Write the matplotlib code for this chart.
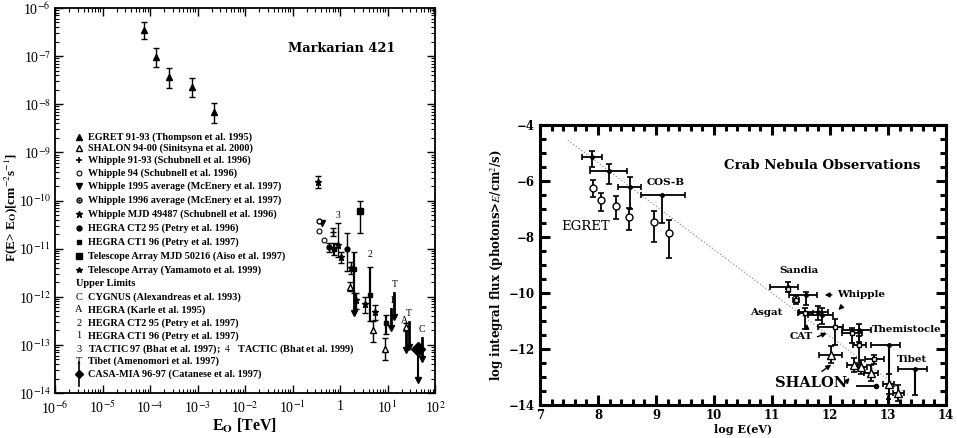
import numpy as np
import matplotlib.pyplot as plt
from matplotlib.ticker import FixedLocator, FixedFormatter, MultipleLocator, LogLocator, NullFormatter

plt.rcParams['font.family'] = ['Liberation Serif', 'DejaVu Serif']
plt.rcParams['mathtext.fontset'] = 'stix'

# ---------------- Markarian 421 (E in TeV, F(>E) in cm^-2 s^-1) ----------------
egret_E = [7.6e-5, 1.35e-4, 2.5e-4, 7.7e-4, 2.2e-3]
egret_F = [3.5e-7, 9.5e-8, 3.7e-8, 2.3e-8, 6.9e-9]
egret_lo = [2.3e-7, 5.9e-8, 2.2e-8, 1.4e-8, 4.1e-9]
egret_hi = [5.1e-7, 1.48e-7, 5.6e-8, 3.5e-8, 1.05e-8]

shalon_E = [1.6, 4.9, 8.7, 24.0]
shalon_F = [1.6e-12, 2.0e-13, 8.1e-14, 2.3e-13]
shalon_lo = [1.3e-12, 1.15e-13, 4.8e-14, 1.9e-13]
shalon_hi = [2.0e-12, 3.2e-13, 1.4e-13, 2.8e-13]

whip9193_E = [0.70]
whip9193_F = [2.2e-11]
whip9193_lo = [1.8e-11]
whip9193_hi = [2.7e-11]

whip94_E = [0.37, 0.45]
whip94_F = [2.3e-11, 1.5e-11]

whip95_E = [0.41]
whip95_F = [3.4e-11]

whip96_E = [0.36]
whip96_F = [3.7e-11]

whipmjd_E = [0.34]
whipmjd_F = [2.4e-10]
whipmjd_lo = [1.8e-10]
whipmjd_hi = [3.2e-10]

ct2_E = [0.60, 1.38]
ct2_F = [1.07e-11, 9.8e-12]
ct2_lo = [8.5e-12, 3.5e-12]
ct2_hi = [1.3e-11, 2.1e-11]

ct1_E = [0.73, 2.0, 4.2, 9.5]
ct1_F = [1.0e-11, 3.7e-12, 1.1e-12, 2.8e-13]
ct1_lo = [7.5e-12, 1.2e-12, 3.2e-13, 1.7e-13]
ct1_hi = [1.3e-11, 8.5e-12, 4.2e-12, 4.2e-13]

tamjd_E = [2.6]
tamjd_F = [6.0e-11]
tamjd_lo = [2.1e-11]
tamjd_hi = [9.8e-11]

ta99_E = [0.89, 1.03, 1.67, 2.2, 3.3, 5.4]
ta99_F = [1.2e-11, 6.6e-12, 3.9e-12, 8.5e-13, 7.1e-13, 4.8e-13]
ta99_lo = [6.6e-12, 5.0e-12, 2.9e-12, 5.5e-13, 4.6e-13, 3.3e-13]
ta99_hi = [3.4e-11, 8.5e-12, 5.2e-12, 1.2e-12, 1.0e-12, 6.8e-13]

# upper limits: value (arrow tip) and top of bar
ul_E = [1.95, 12.0, 14.0, 24.0, 28.0, 53.0]
ul_F = [4.6e-13, 2.2e-13, 3.8e-13, 7.8e-14, 8.9e-14, 5.2e-14]
ul_top = [1.2e-12, 5.8e-13, 1.26e-12, 2.3e-13, 3.2e-13, 1.45e-13]
ul_tags = ['', '1', 'T', '', 'T', 'C']

casa_E = [44.0]
casa_F = [8.1e-14]
casa_min = [1.85e-14]

# labels written next to the points
tag_text = ['3', '2', 'A']
tag_E = [0.89, 4.2, 23.0]
tag_F = [4.0e-11, 6.0e-12, 2.6e-13]

legend_rows = [
    ('^f', 'EGRET 91-93 (Thompson et al. 1995)'),
    ('^o', 'SHALON 94-00 (Sinitsyna et al. 2000)'),
    ('+', 'Whipple 91-93 (Schubnell et al. 1996)'),
    ('oo', 'Whipple 94 (Schubnell et al. 1996)'),
    ('vf', 'Whipple 1995 average (McEnery et al. 1997)'),
    ('od', 'Whipple 1996 average (McEnery et al. 1997)'),
    ('*', 'Whipple MJD 49487 (Schubnell et al. 1996)'),
    ('of', 'HEGRA CT2 95 (Petry et al. 1996)'),
    ('sf', 'HEGRA CT1 96 (Petry et al. 1997)'),
    ('Sf', 'Telescope Array MJD 50216 (Aiso et al. 1997)'),
    ('x*', 'Telescope Array (Yamamoto et al. 1999)'),
    ('', 'Upper Limits'),
    ('tC', 'CYGNUS (Alexandreas et al. 1993)'),
    ('tA', 'HEGRA (Karle et al. 1995)'),
    ('t2', 'HEGRA CT2 95 (Petry et al. 1997)'),
    ('t1', 'HEGRA CT1 96 (Petry et al. 1997)'),
    ('t3', 'TACTIC 97 (Bhat et al. 1997);  $\\it{4}$   TACTIC (Bhat et al. 1999)'),
    ('tT', 'Tibet (Amenomori et al. 1997)'),
    ('D', 'CASA-MIA 96-97 (Catanese et al. 1997)'),
]
legend_y = [137, 148, 160, 173, 186, 200, 214, 228, 242, 256, 270, 283,
            297, 310, 323, 336, 349, 361, 374]

xt_pos = [1e-6, 1e-5, 1e-4, 1e-3, 1e-2, 1e-1, 1, 10, 100]
xt_lab = ['10$^{-6}$', '10$^{-5}$', '10$^{-4}$', '10$^{-3}$', '10$^{-2}$',
          '10$^{-1}$', '1', '10$^{1}$', '10$^{2}$']
yt_pos = [1e-6, 1e-7, 1e-8, 1e-9, 1e-10, 1e-11, 1e-12, 1e-13, 1e-14]
yt_lab = ['10$^{-6}$', '10$^{-7}$', '10$^{-8}$', '10$^{-9}$', '10$^{-10}$',
          '10$^{-11}$', '10$^{-12}$', '10$^{-13}$', '10$^{-14}$']

# ---------------- Crab Nebula (log E in eV, log integral flux) ----------------
cosb_x = [7.90, 8.19, 8.55, 9.11]
cosb_y = [-5.14, -5.64, -6.21, -6.50]
cosb_xlo = [7.73, 7.86, 8.34, 8.74]
cosb_xhi = [8.07, 8.50, 8.74, 9.50]
cosb_ylo = [-5.50, -6.11, -7.00, -7.50]
cosb_yhi = [-4.93, -5.39, -5.86, -6.50]

egr_x = [7.92, 8.06, 8.31, 8.53, 8.96, 9.23]
egr_y = [-6.25, -6.68, -6.90, -7.28, -7.45, -7.87]
egr_ylo = [-6.57, -7.07, -7.36, -7.75, -8.18, -8.75]
egr_yhi = [-5.96, -6.43, -6.54, -6.96, -7.07, -7.39]

gnd_x = [11.28, 11.58, 11.80, 11.87, 12.50]
gnd_y = [-9.79, -10.07, -10.68, -10.80, -11.32]
gnd_xlo = [10.97, 11.29, 11.46, 11.62, 12.20]
gnd_xhi = [11.45, 11.77, 11.97, 12.05, 12.71]
gnd_ylo = [-9.95, -10.43, -10.95, -11.10, -11.75]
gnd_yhi = [-9.62, -9.96, -10.45, -10.55, -11.10]

sq_x = [11.28, 11.41, 11.57, 12.09, 12.38, 12.50, 12.76]
sq_y = [-9.85, -10.25, -10.71, -11.21, -11.43, -11.86, -12.36]
sq_xlo = [11.28, 11.36, 11.45, 11.80, 12.20, 12.40, 12.60]
sq_xhi = [11.28, 11.46, 11.70, 12.23, 12.55, 12.62, 12.93]
sq_ylo = [-9.85, -10.40, -11.30, -11.85, -11.80, -12.50, -12.55]
sq_yhi = [-9.85, -10.10, -10.55, -10.93, -11.25, -11.55, -12.20]

tib_x = [13.01, 13.47]
tib_y = [-11.86, -12.71]
tib_xlo = [12.71, 13.17]
tib_xhi = [13.20, 13.68]
tib_ybot = [-13.80, -13.64]

hg_x = [12.79]
hg_y = [-13.32]
hg_xlo = [12.45]

sh_x = [12.01, 12.42, 12.54, 12.71, 13.01, 13.18]
sh_y = [-12.21, -12.57, -12.64, -12.86, -13.25, -13.57]
sh_xerr = [0.20, 0.12, 0.10, 0.12, 0.10, 0.10]
sh_yerr = [0.30, 0.25, 0.25, 0.30, 0.35, 0.30]

fit_x = [7.48, 13.35]
fit_y = [-4.54, -13.64]

W, H = 957, 438
fig = plt.figure(figsize=(W / 100, H / 100), dpi=100)


def px_axes(x0, y0, x1, y1):
    return fig.add_axes([x0 / W, 1 - y1 / H, (x1 - x0) / W, (y1 - y0) / H])


def err(v, lo, hi):
    v = np.array(v)
    return [v - np.array(lo), np.array(hi) - v]


# ================= left panel =================
ax = px_axes(55, 8, 435, 393)
ax.set_xscale('log')
ax.set_yscale('log')
ax.set_xlim(1e-6, 1e2)
ax.set_ylim(1e-14, 1e-6)

k = dict(color='black', ecolor='black', capsize=2.2, capthick=1.0, ls='none')
ax.errorbar(egret_E, egret_F, yerr=err(egret_F, egret_lo, egret_hi), marker='^', ms=5, elinewidth=1.0, **k)
ax.errorbar(shalon_E, shalon_F, yerr=err(shalon_F, shalon_lo, shalon_hi), marker='^', ms=5, mfc='white', elinewidth=1.0, **k)
ax.errorbar(whip9193_E, whip9193_F, yerr=err(whip9193_F, whip9193_lo, whip9193_hi), marker='+', ms=4, elinewidth=1.0, **k)
ax.plot(whip94_E, whip94_F, 'o', ms=3.5, mfc='white', mec='black', mew=0.8)
ax.plot(whip95_E, whip95_F, 'v', ms=4, color='black')
ax.plot(whip96_E, whip96_F, 'o', ms=3.5, mfc='white', mec='black', mew=1.0)
ax.errorbar(whipmjd_E, whipmjd_F, yerr=err(whipmjd_F, whipmjd_lo, whipmjd_hi), marker='*', ms=5, elinewidth=1.0, **k)
ax.errorbar(ct2_E, ct2_F, yerr=err(ct2_F, ct2_lo, ct2_hi), marker='o', ms=3.5, elinewidth=1.0, **k)
ax.errorbar(ct1_E, ct1_F, yerr=err(ct1_F, ct1_lo, ct1_hi), marker='s', ms=3, elinewidth=1.6, **k)
ax.errorbar(tamjd_E, tamjd_F, yerr=err(tamjd_F, tamjd_lo, tamjd_hi), marker='s', ms=4.5, elinewidth=1.0, **k)
ax.errorbar(ta99_E, ta99_F, yerr=err(ta99_F, ta99_lo, ta99_hi), marker='*', ms=4.5, elinewidth=1.0, **k)

ax.vlines(ul_E, ul_F, ul_top, color='black', lw=2.0)
ax.hlines(ul_top, np.array(ul_E) / 1.05, np.array(ul_E) * 1.05, color='black', lw=0.8)
ax.plot(ul_E, ul_F, 'v', ms=4, color='black')
for e, t, s in zip(ul_E, ul_top, ul_tags):
    ax.text(e * 1.02, t * 1.15, s, fontsize=7, ha='center', va='bottom')
for s, e, f in zip(tag_text, tag_E, tag_F):
    ax.text(e, f, s, fontsize=7, ha='center', va='bottom')

ax.vlines(casa_E, casa_min, casa_F, color='black', lw=1.5)
ax.plot(casa_E, casa_min, 'v', ms=4, color='black')
ax.plot(casa_E, casa_F, 'D', ms=7, color='black')

ax.xaxis.set_major_locator(FixedLocator(xt_pos))
ax.xaxis.set_major_formatter(FixedFormatter(xt_lab))
ax.yaxis.set_major_locator(FixedLocator(yt_pos))
ax.yaxis.set_major_formatter(FixedFormatter(yt_lab))
ax.xaxis.set_minor_locator(LogLocator(base=10, subs=np.arange(2, 10), numticks=20))
ax.yaxis.set_minor_locator(LogLocator(base=10, subs=np.arange(2, 10), numticks=20))
ax.xaxis.set_minor_formatter(NullFormatter())
ax.yaxis.set_minor_formatter(NullFormatter())
ax.tick_params(which='both', direction='in', top=True, right=True, labelsize=10)
ax.tick_params(which='major', length=6, width=1.0)
ax.tick_params(which='minor', length=3, width=0.8)
ax.tick_params(axis='x', pad=5)
ax.tick_params(axis='y', pad=3)
for sp in ax.spines.values():
    sp.set_linewidth(1.3)

ax.text(0.755, 0.896, 'Markarian 421', transform=ax.transAxes, fontsize=9.3,
        fontweight='bold', ha='center', va='center', family=['DejaVu Serif'])
ax.set_xlabel('E$_{\\mathbf{O}}$ [TeV]', fontsize=11.5, fontweight='bold', labelpad=0)
fig.text(11 / W, 1 - 208 / H, 'F(E> E$_{\\mathbf{O}}$)[cm$^{-2}$s$^{-1}$]', rotation=90,
         fontsize=9.5, fontweight='bold', ha='center', va='center')

# text legend inside the panel
for (m, lab), yy in zip(legend_rows, legend_y):
    fy = (393 - yy) / 385
    mx = (79 - 55) / 380
    tx = (88 - 55) / 380
    if m == '':
        ax.text((76 - 55) / 380, fy, lab, transform=ax.transAxes, fontsize=7.5,
                fontweight='bold', va='center')
        continue
    if m.startswith('t'):
        ax.text(mx, fy, m[1], transform=ax.transAxes, fontsize=7.5, ha='center', va='center')
    elif m == '^f':
        ax.plot(mx, fy, '^', ms=5, color='black', transform=ax.transAxes)
    elif m == '^o':
        ax.plot(mx, fy, '^', ms=5, mfc='white', mec='black', transform=ax.transAxes)
    elif m == '+':
        ax.plot(mx, fy, '+', ms=4, mew=1.2, color='black', transform=ax.transAxes)
    elif m == 'oo':
        ax.plot(mx, fy, 'o', ms=3.5, mfc='white', mec='black', mew=0.8, transform=ax.transAxes)
    elif m == 'vf':
        ax.plot(mx, fy, 'v', ms=4.5, color='black', transform=ax.transAxes)
    elif m == 'od':
        ax.plot(mx, fy, 'o', ms=3.5, mfc='white', mec='black', transform=ax.transAxes)
        ax.plot(mx, fy, '.', ms=1.5, color='black', transform=ax.transAxes)
    elif m == '*':
        ax.plot(mx, fy, '*', ms=5, color='black', transform=ax.transAxes)
    elif m == 'of':
        ax.plot(mx, fy, 'o', ms=3.5, color='black', transform=ax.transAxes)
    elif m == 'sf':
        ax.plot(mx, fy, 's', ms=3, color='black', transform=ax.transAxes)
    elif m == 'Sf':
        ax.plot(mx, fy, 's', ms=4.5, color='black', transform=ax.transAxes)
    elif m == 'x*':
        ax.plot(mx, fy, '*', ms=4, color='black', transform=ax.transAxes)
    elif m == 'D':
        ax.plot(mx, fy, 'D', ms=4, color='black', transform=ax.transAxes)
        ax.plot([mx, mx], [fy - 0.03, fy + 0.03], color='black', lw=1.2, transform=ax.transAxes)
    ax.text(tx, fy, lab, transform=ax.transAxes, fontsize=7.3, fontweight='bold', va='center')

# ================= right panel =================
bx = px_axes(540, 125, 946, 405)
bx.set_xlim(7, 14)
bx.set_ylim(-14, -4)

bx.plot(fit_x, fit_y, ls=(0, (1, 2)), color='grey', lw=0.8)

kk = dict(ls='none', color='black', ecolor='black', capsize=2.5, capthick=1.2, elinewidth=1.3)
bx.errorbar(cosb_x, cosb_y, xerr=err(cosb_x, cosb_xlo, cosb_xhi),
            yerr=err(cosb_y, cosb_ylo, cosb_yhi), marker='o', ms=2.5, **kk)
bx.errorbar(egr_x, egr_y, yerr=err(egr_y, egr_ylo, egr_yhi), marker='o', ms=5,
            mfc='white', mec='black', **kk)
bx.errorbar(gnd_x, gnd_y, xerr=err(gnd_x, gnd_xlo, gnd_xhi),
            yerr=err(gnd_y, gnd_ylo, gnd_yhi), marker='o', ms=2.5, **kk)
bx.errorbar(sq_x, sq_y, xerr=err(sq_x, sq_xlo, sq_xhi),
            yerr=err(sq_y, sq_ylo, sq_yhi), marker='s', ms=3.5, mfc='white', mec='black', **kk)
bx.errorbar(tib_x, tib_y, xerr=err(tib_x, tib_xlo, tib_xhi), marker='o', ms=2.5, **kk)
bx.vlines(tib_x, tib_ybot, tib_y, color='black', lw=1.5)
bx.hlines(tib_ybot, np.array(tib_x) - 0.05, np.array(tib_x) + 0.05, color='black', lw=1.2)
bx.hlines(hg_y, hg_xlo, hg_x, color='black', lw=1.3)
bx.plot(hg_x, hg_y, 'o', ms=3, color='black')
bx.errorbar(sh_x, sh_y, xerr=sh_xerr, yerr=sh_yerr, marker='^', ms=5.5,
            mfc='white', mec='black', **kk)

ser = ['DejaVu Serif']
bx.text(11.86, -5.46, 'Crab Nebula Observations', fontsize=9.6, fontweight='bold',
        ha='center', va='center', family=ser)
bx.text(9.16, -6.05, 'COS-B', fontsize=7.5, fontweight='bold', ha='center', va='center', family=ser)
bx.text(7.78, -7.61, 'EGRET', fontsize=9.5, ha='center', va='center', family=ser)
bx.text(11.46, -9.21, 'Sandia', fontsize=7.5, fontweight='bold', ha='center', va='center', family=ser)
bx.text(12.13, -10.07, 'Whipple', fontsize=7.5, fontweight='bold', ha='left', va='center', family=ser)
bx.text(10.9, -10.68, 'Asgat', fontsize=7.5, fontweight='bold', ha='center', va='center', family=ser)
bx.text(11.51, -11.57, 'CAT', fontsize=7.5, fontweight='bold', ha='center', va='center', family=ser)
bx.text(12.72, -11.32, 'Themistocle', fontsize=7.3, fontweight='bold', ha='left', va='center', family=ser)
bx.text(13.42, -12.36, 'Tibet', fontsize=7.5, fontweight='bold', ha='center', va='center', family=ser)
bx.text(11.68, -13.21, 'SHALON', fontsize=10.5, fontweight='bold', ha='center', va='center', family=ser)

ap = dict(arrowstyle='-|>', color='black', lw=1.0, mutation_scale=7)
bx.annotate('', xy=(11.86, -10.07), xytext=(12.08, -10.07), arrowprops=ap)
bx.annotate('', xy=(12.11, -10.68), xytext=(12.23, -10.43), arrowprops=ap)
bx.annotate('', xy=(11.99, -11.39), xytext=(11.74, -11.6), arrowprops=ap)
bx.annotate('', xy=(11.6, -11.0), xytext=(11.6, -11.39), arrowprops=ap)
bx.annotate('', xy=(12.06, -12.5), xytext=(11.82, -12.86), arrowprops=ap)
bx.annotate('', xy=(12.37, -12.96), xytext=(12.23, -13.29), arrowprops=ap)

bx.xaxis.set_major_locator(MultipleLocator(1))
bx.xaxis.set_minor_locator(MultipleLocator(0.2))
bx.yaxis.set_major_locator(MultipleLocator(2))
bx.yaxis.set_minor_locator(MultipleLocator(0.5))
bx.tick_params(which='both', direction='in', top=True, right=True, labelsize=8.5)
bx.tick_params(which='major', length=7, width=2.2)
bx.tick_params(which='minor', length=4, width=2.2)
bx.tick_params(axis='x', pad=3)
for lab in bx.get_xticklabels() + bx.get_yticklabels():
    lab.set_fontweight('bold')
    lab.set_family('DejaVu Serif')
for sp in bx.spines.values():
    sp.set_linewidth(2.2)
bx.set_xlabel('log E(eV)', fontsize=8, fontweight='bold', family='DejaVu Serif', labelpad=1)
bx.set_ylabel('log integral flux (photons>$E$/cm$^2$/s)', fontsize=8.5, fontweight='bold',
              family='DejaVu Serif', labelpad=2)

fig.savefig('out.png', dpi=100)
